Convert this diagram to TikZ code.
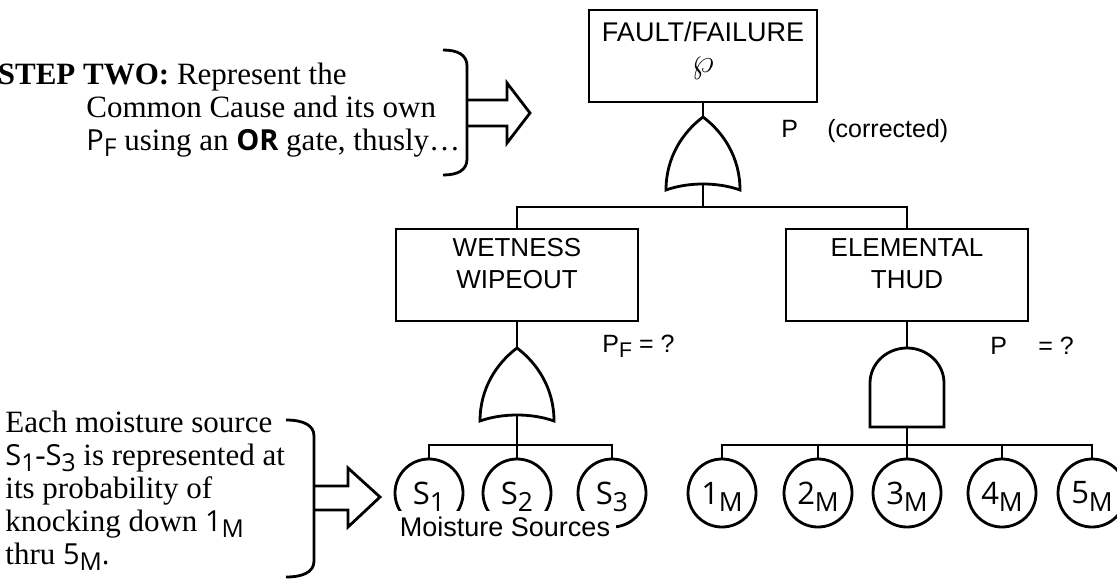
\documentclass[tikz,border=0pt]{standalone}
\usepackage{graphicx}
\usepackage{fontspec}
\setmainfont{Liberation Serif}
\newfontfamily\arialfont{Liberation Sans}
\newfontfamily\lucfont{Open Sans}
\newcommand\lowsub[1]{\raisebox{-0.45ex}[0pt][0pt]{\scalebox{0.85}{#1}}}
\newcommand\luc{\lucfont\fontsize{14.5}{17}\selectfont}

\begin{document}
\begin{tikzpicture}[x=0.5pt, y=-0.5pt, line width=1.4pt,
  box/.style={draw, rectangle, minimum width=121pt, minimum height=46pt, inner sep=0pt},
  boxtext/.style={font=\arialfont\fontsize{13}{16}\selectfont, align=center, inner sep=0pt},
  event/.style={draw, circle, minimum size=34pt, inner sep=0pt, font=\lucfont\fontsize{15.5}{17}\selectfont},
  plabel/.style={font=\arialfont\fontsize{12.5}{15}\selectfont, anchor=base west, inner sep=0pt},
  note/.style={font=\fontsize{15.5}{18}\selectfont, anchor=base west, inner sep=0pt},
  orgate/.pic={
    \draw (0,0) .. controls (-20,15) and (-37,40) .. (-37,73)
      .. controls (-15,65) and (15,65) .. (37,73)
      .. controls (37,40) and (20,15) .. (0,0) -- cycle;
    \coordinate (-in) at (0,0);
    \coordinate (-out) at (0,68);
  },
  andgate/.pic={
    \draw (-37,79) -- (-37,35) arc[start angle=180, end angle=360, x radius=37, y radius=35] -- (37,79) -- cycle;
    \coordinate (-in) at (0,0);
    \coordinate (-out) at (0,79);
  }]
  \useasboundingbox (0,0) rectangle (1117,579);
  \clip (0,0) rectangle (1117,579);

  % top event
  \node[box, minimum width=114pt] (fault) at (703,56) {};
  \node[boxtext, anchor=base, font=\arialfont\fontsize{13.5}{16}\selectfont] (faulttext) at (703,41) {FAULT/FAILURE};
  \node[anchor=base, inner sep=0pt, font=\fontsize{18}{18}\selectfont] (wp) at (703,72) {$\wp$};
  \pic (topor) at (703,117) {orgate};
  \draw (fault.south) -- (topor-in);
  \coordinate (topbar) at (703,207);
  \draw (topor-out) -- (topbar);
  \node[plabel] (ptop) at (780,137) {P};
  \node[plabel] (corr) at (826,137) {(corrected)};

  % second level
  \node[box] (wet) at (517,275) {};
  \node[boxtext, anchor=north] (wettext) at ([yshift=-4.85pt]wet.north) {WETNESS\\WIPEOUT};
  \node[box] (thud) at (907,275) {};
  \node[boxtext, anchor=north] (thudtext) at ([yshift=-4.85pt]thud.north) {ELEMENTAL\\THUD};
  \draw (wet.north) |- (topbar) -| (thud.north);
  \pic (wetor) at (517,348) {orgate};
  \draw (wet.south) -- (wetor-in);
  \pic (thudand) at (907,348) {andgate};
  \draw (thud.south) -- (thudand-in);
  \node[plabel] (pwet) at (601,352) {P\lowsub{F} = ?};
  \node[plabel] (pthud) at (989,354) {P};
  \node[plabel] (qthud) at (1037,354) {= ?};

  % moisture sources
  \foreach \n/\x in {1/429,2/517,3/612}
    \node[event] (s\n) at (\x,493) {S\lowsub{\n}};
  \coordinate (sbar) at (517,445);
  \draw (wetor-out) -- (sbar);
  \draw (s1.north) |- (sbar) -| (s3.north);
  \draw (sbar) -- (s2.north);
  \node[fill=white, inner sep=3pt, font=\arialfont\fontsize{13.5}{16}\selectfont] (srclabel) at (505,527) {Moisture Sources};

  % elements
  \foreach \n/\x in {1/722,2/818,3/907,4/1002,5/1092}
    \node[event] (m\n) at (\x,493) {\n\lowsub{M}};
  \coordinate (mbar) at (907,445);
  \draw (thudand-out) -- (mbar);
  \draw (m1.north) |- (mbar) -| (m5.north);
  \foreach \n in {2,3,4}
    \draw (m\n.north) -- (m\n.north |- mbar);

  % step two note
  \node[note, anchor=base east] (step1) at (348,84) {\textbf{STEP TWO:} Represent the};
  \node[note] (step2) at (85,117) {Common Cause and its own};
  \node[note] (step3) at (85,150) {{\luc P\lowsub{F}} using an {\luc\bfseries OR} gate, thusly…};
  \draw (443,50) .. controls (458,50) and (467,55) .. (467,66) -- (467,159)
    .. controls (467,170) and (458,175) .. (443,175);
  \draw (467,100) -- (507,100) -- (507,83) -- (530,113) -- (507,143) -- (507,126) -- (467,126);

  % moisture note
  \node[note] (each1) at (4,432) {Each moisture source};
  \node[note] (each2) at (4,465) {{\luc S\lowsub{1}}-{\luc S\lowsub{3}} is represented at};
  \node[note] (each3) at (4,498) {its probability of};
  \node[note] (each4) at (4,531) {knocking down {\luc 1\lowsub{M}}};
  \node[note] (each5) at (4,564) {thru {\luc 5\lowsub{M}.}};
  \draw (286,420) .. controls (303,420) and (314,425) .. (314,436) -- (314,561)
    .. controls (314,572) and (303,577) .. (286,577);
  \draw (314,486) -- (348,486) -- (348,468) -- (380,497) -- (348,527) -- (348,510) -- (314,510);
\end{tikzpicture}
\end{document}
